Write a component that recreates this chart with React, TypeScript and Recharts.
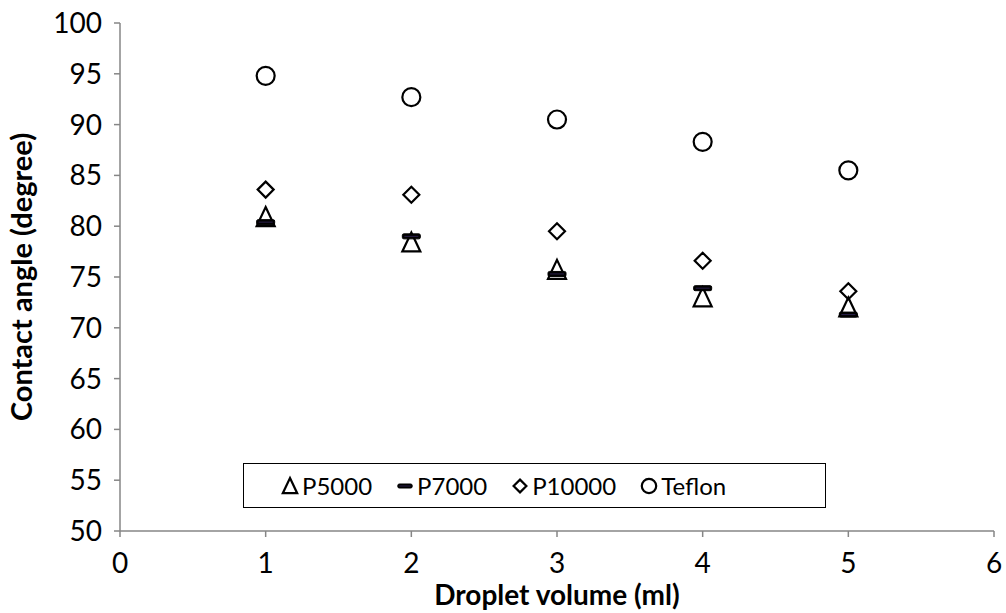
import { Legend, Scatter, ScatterChart, XAxis, YAxis } from 'recharts';

const volumes = [1, 2, 3, 4, 5];
const p5000 = [80.9, 78.4, 75.7, 73.0, 72.0];
const p7000 = [80.4, 79.0, 75.3, 73.9, 71.3];
const p10000 = [83.6, 83.1, 79.5, 76.6, 73.6];
const teflon = [94.8, 92.7, 90.5, 88.3, 85.5];
const xTicks = [0, 1, 2, 3, 4, 5, 6];
const yTicks = [50, 55, 60, 65, 70, 75, 80, 85, 90, 95, 100];

const FONT = 'Lato, "Open Sans", sans-serif';
const AXIS_GREY = '#868686';

type Marker = 'triangle' | 'dash' | 'diamond' | 'circle';

const toPoints = (values: number[]) => values.map((v, i) => ({ x: volumes[i], y: v }));

const series: { name: string; marker: Marker; values: number[] }[] = [
  { name: 'P5000', marker: 'triangle', values: p5000 },
  { name: 'P7000', marker: 'dash', values: p7000 },
  { name: 'P10000', marker: 'diamond', values: p10000 },
  { name: 'Teflon', marker: 'circle', values: teflon },
];

function markerShape(kind: Marker, cx: number, cy: number, scale = 1) {
  const s = scale;
  switch (kind) {
    case 'triangle':
      return (
        <path
          d={`M${cx},${cy - 10 * s} L${cx + 9 * s},${cy + 9 * s} L${cx - 9 * s},${cy + 9 * s} Z`}
          fill="#fff"
          fillOpacity={0}
          stroke="#000"
          strokeWidth={2.2}
        />
      );
    case 'dash':
      return (
        <g>
          <rect
            x={cx - 9 * s}
            y={cy - 2.5 * s}
            width={18 * s}
            height={5 * s}
            rx={1.5}
            fill="#000"
            stroke="#000"
            strokeWidth={1}
          />
          <line x1={cx - 7 * s} x2={cx + 7 * s} y1={cy} y2={cy} stroke="#2a1f4a" strokeWidth={1} />
        </g>
      );
    case 'diamond':
      return (
        <path
          d={`M${cx},${cy - 8 * s} L${cx + 8 * s},${cy} L${cx},${cy + 8 * s} L${cx - 8 * s},${cy} Z`}
          fill="#fff"
          fillOpacity={0}
          stroke="#000"
          strokeWidth={2.2}
        />
      );
    default:
      return <circle cx={cx} cy={cy} r={9 * s} fill="#fff" fillOpacity={0} stroke="#000" strokeWidth={2.2} />;
  }
}

function LegendBox() {
  return (
    <div
      style={{
        border: '1.5px solid #000',
        background: '#fff',
        height: 43,
        display: 'flex',
        alignItems: 'center',
        paddingLeft: 37,
        fontFamily: FONT,
        fontSize: 24,
        color: '#000',
        boxSizing: 'content-box',
      }}
    >
      {series.map((s) => (
        <span key={s.name} style={{ display: 'flex', alignItems: 'center', marginRight: 24 }}>
          <svg width={18} height={22} style={{ marginRight: 3 }}>
            {markerShape(s.marker, 9, 11, 0.8)}
          </svg>
          {s.name}
        </span>
      ))}
    </div>
  );
}

export default function App() {
  return (
    <div style={{ position: 'absolute', left: 0, top: 0, width: 1006, height: 613, background: '#fff' }}>
      <ScatterChart width={1006} height={613} margin={{ top: 23, right: 12, bottom: 0, left: 0 }}>
        <XAxis
          type="number"
          dataKey="x"
          domain={[0, 6]}
          ticks={xTicks}
          interval={0}
          height={82}
          stroke={AXIS_GREY}
          strokeWidth={1.5}
          tickSize={6}
          tickMargin={16}
          tick={{ fill: '#000', fontSize: 28, fontFamily: FONT }}
          label={{
            value: 'Droplet volume (ml)',
            position: 'insideBottom',
            offset: 8,
            fill: '#000',
            fontSize: 28,
            fontWeight: 700,
            fontFamily: FONT,
          }}
        />
        <YAxis
          type="number"
          dataKey="y"
          domain={[50, 100]}
          ticks={yTicks}
          interval={0}
          width={120}
          stroke={AXIS_GREY}
          strokeWidth={1.5}
          tickSize={6}
          tickMargin={12}
          tick={{ fill: '#000', fontSize: 28, fontFamily: FONT }}
          label={{
            value: 'Contact angle (degree)',
            angle: -90,
            position: 'insideLeft',
            offset: 22,
            style: { textAnchor: 'middle' },
            fill: '#000',
            fontSize: 29,
            fontWeight: 700,
            fontFamily: FONT,
          }}
        />
        <Legend
          layout="horizontal"
          verticalAlign="middle"
          align="center"
          content={() => <LegendBox />}
          wrapperStyle={{ position: 'absolute', left: 243, top: 463, width: 583, bottom: 'auto' }}
        />
        {series.map((s) => (
          <Scatter
            key={s.name}
            name={s.name}
            data={toPoints(s.values)}
            isAnimationActive={false}
            shape={(props: any) => markerShape(s.marker, props.cx, props.cy)}
          />
        ))}
      </ScatterChart>
    </div>
  );
}
